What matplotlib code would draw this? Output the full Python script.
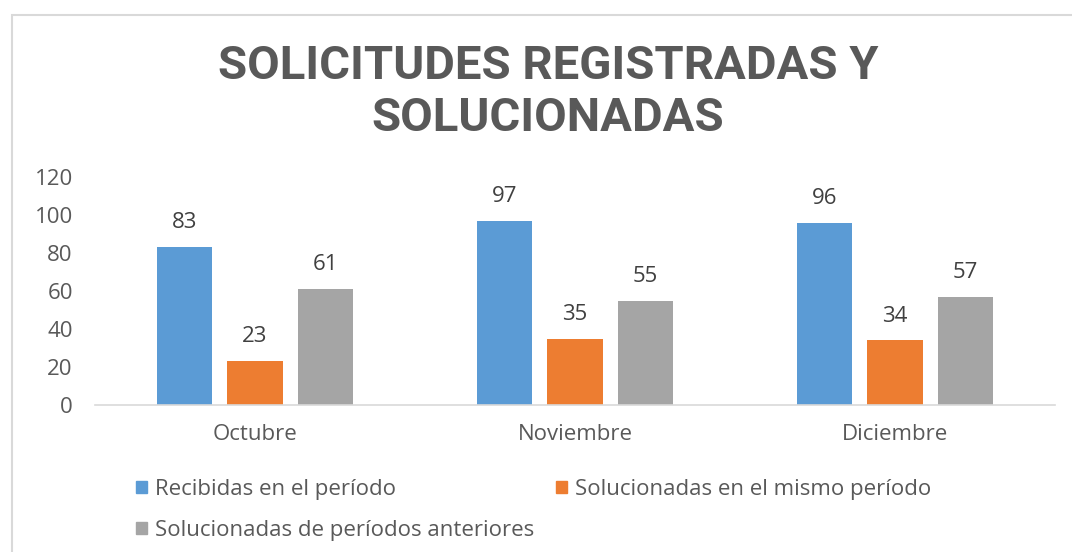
import matplotlib
matplotlib.use("Agg")
import matplotlib.pyplot as plt
import matplotlib.patches as mpatches
import numpy as np

# ── Data ─────────────────────────────────────────────────────────────────────
months = ["Octubre", "Noviembre", "Diciembre"]
series_names = ["Recibidas en el período",
                "Solucionadas en el mismo período",
                "Solucionadas de períodos anteriores"]
recibidas = [83, 97, 96]
solucionadas_mismo = [23, 35, 34]
solucionadas_anteriores = [61, 55, 57]
yticks = [0, 20, 40, 60, 80, 100, 120]

colors = ["#5B9BD5", "#ED7D31", "#A5A5A5"]
text_gray = "#595959"
label_gray = "#404040"

plt.rcParams["font.family"] = ["Open Sans", "DejaVu Sans"]

fig = plt.figure(figsize=(10.72, 5.52), dpi=100)
ax = fig.add_axes([95 / 1072, 1 - 405 / 552, 960 / 1072, 228 / 552])

x = np.arange(len(months))
width = 0.172
step = 0.22
for i, vals in enumerate([recibidas, solucionadas_mismo, solucionadas_anteriores]):
    b = ax.bar(x + (i - 1) * step, vals, width, color=colors[i], label=series_names[i], zorder=2)
    ax.bar_label(b, padding=10, fontsize=16, color=label_gray)

ax.set_xlim(-0.5, 2.5)
ax.set_ylim(0, 120)
ax.set_yticks(yticks)
ax.set_xticks(x)
ax.set_xticklabels(months)
ax.tick_params(axis="both", length=0, labelsize=16, colors=text_gray)
ax.tick_params(axis="x", pad=14)
ax.tick_params(axis="y", pad=16)
for s in ["top", "right", "left"]:
    ax.spines[s].set_visible(False)
ax.spines["bottom"].set_color("#D9D9D9")
ax.spines["bottom"].set_linewidth(1.2)

# title
fig.text(548 / 1072, 1 - 92 / 552, "SOLICITUDES REGISTRADAS Y\nSOLUCIONADAS",
         ha="center", va="center", fontsize=34, fontweight="bold",
         color=text_gray, linespacing=1.25,
         family=["Roboto", "DejaVu Sans"])

# legend (column-fill order so rows read 0,1 / 2)
handles = [mpatches.Patch(color=colors[k], label=series_names[k]) for k in (0, 2, 1)]
fig.legend(handles=handles, loc="upper left", ncol=2,
           bbox_to_anchor=(127 / 1072, 1 - 470 / 552),
           frameon=False, fontsize=16, labelcolor=text_gray,
           handlelength=0.5, handleheight=0.5, handletextpad=0.35,
           columnspacing=1.0, labelspacing=0.9, borderaxespad=0)

# outer chart border
fig.add_artist(mpatches.Rectangle((12 / 1072, -0.1), 1.2, 1 - 15 / 552 + 0.1,
                                  transform=fig.transFigure, fill=False,
                                  edgecolor="#D9D9D9", linewidth=1.5))

fig.savefig("out.png", dpi=100)
